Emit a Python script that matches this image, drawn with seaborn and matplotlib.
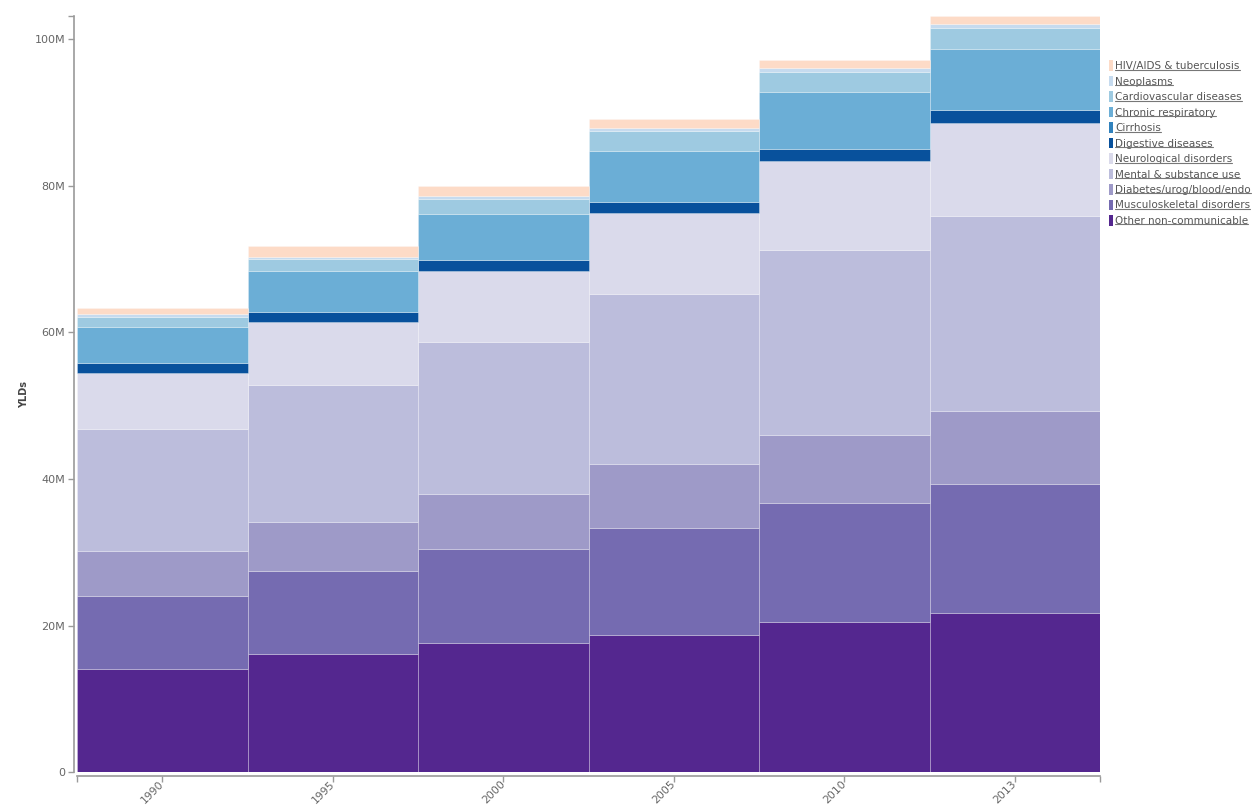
import pandas as pd
import matplotlib
matplotlib.use("Agg")
import matplotlib.pyplot as plt
from matplotlib.patches import Patch
from matplotlib.lines import Line2D
import seaborn as sns

# Data (YLDs, millions)
years = ["1990", "1995", "2000", "2005", "2010", "2013"]

causes = [
    "HIV/AIDS & tuberculosis",
    "Neoplasms",
    "Cardiovascular diseases",
    "Chronic respiratory",
    "Cirrhosis",
    "Digestive diseases",
    "Neurological disorders",
    "Mental & substance use",
    "Diabetes/urog/blood/endo",
    "Musculoskeletal disorders",
    "Other non-communicable",
]

hiv = [0.78, 1.37, 1.47, 1.27, 1.13, 1.13]
neoplasms = [0.37, 0.31, 0.31, 0.46, 0.51, 0.45]
cardio = [1.36, 1.60, 2.05, 2.74, 2.68, 2.97]
chronic_resp = [5.00, 5.60, 6.29, 6.97, 7.79, 8.33]
cirrhosis = [0.0, 0.0, 0.0, 0.0, 0.0, 0.0]
digestive = [1.29, 1.37, 1.46, 1.44, 1.60, 1.68]
neuro = [7.69, 8.61, 9.70, 11.03, 12.20, 12.71]
mental = [16.58, 18.70, 20.72, 23.27, 25.24, 26.55]
diabetes = [6.19, 6.76, 7.61, 8.66, 9.29, 9.94]
musculo = [9.93, 11.24, 12.79, 14.58, 16.21, 17.59]
other_ncd = [14.10, 16.15, 17.61, 18.74, 20.48, 21.79]

colors = ["#fddbc7", "#c6dbef", "#9ecae1", "#6baed6", "#3182bd", "#08519c",
          "#dadaeb", "#bcbddc", "#9e9ac8", "#756bb1", "#54278f"]

series = [hiv, neoplasms, cardio, chronic_resp, cirrhosis, digestive,
          neuro, mental, diabetes, musculo, other_ncd]

rows = []
for cause, vals in zip(causes, series):
    for i, v in enumerate(vals):
        rows.append({"pos": i, "year": years[i], "cause": cause, "ylds": v})
df = pd.DataFrame(rows)

sns.set_style("ticks")
plt.rcParams["font.family"] = ["DejaVu Sans"]

grey_txt = "#666666"
grey_line = "#9a9a9a"

fig = plt.figure(figsize=(12.55, 8.05), dpi=100)
ax = fig.add_axes([0.0614, 0.0406, 0.8151, 0.9395])

# first hue level ends up on top of the stack
sns.histplot(data=df, x="pos", hue="cause", weights="ylds", hue_order=causes,
             palette=dict(zip(causes, colors)), multiple="stack", discrete=True,
             shrink=1, alpha=1, edgecolor=(1, 1, 1, 0.25), linewidth=0.7,
             legend=False, ax=ax)

sns.despine(ax=ax, offset=2.5)
for side in ["left", "bottom"]:
    ax.spines[side].set_color(grey_line)
    ax.spines[side].set_linewidth(1.2)

totals = df.groupby("pos")["ylds"].sum()
ax.set_xlim(-0.5, len(years) - 0.5)
ax.set_ylim(0, totals.max())

ax.set_xticks(range(len(years)))
ax.set_xticklabels(years)
ax.set_xticks([-0.5, len(years) - 0.5], minor=True)
ax.set_yticks([0, 20, 40, 60, 80, 100])
ax.set_yticklabels(["0", "20M", "40M", "60M", "80M", "100M"])
ax.set_yticks([totals.max()], minor=True)

ax.tick_params(axis="both", which="both", length=4, width=1, color=grey_line,
               labelcolor=grey_txt, labelsize=8, pad=2)
ax.tick_params(axis="x", which="major", labelsize=7.8, pad=0.5, labelrotation=45)
for lab in ax.get_xticklabels():
    lab.set_horizontalalignment("right")
    lab.set_verticalalignment("center")
    lab.set_rotation_mode("anchor")

ax.set_xlabel("")
ax.set_ylabel("YLDs", fontsize=7, fontweight="bold", color="#444444", labelpad=4)

handles = [Patch(facecolor=c, edgecolor="none") for c in colors]
leg = ax.legend(handles, causes, loc="upper left", bbox_to_anchor=(0.884, 0.925),
                bbox_transform=fig.transFigure, frameon=False, fontsize=7.5,
                handlelength=0.3, handleheight=1.15, handletextpad=0.25,
                labelspacing=0.46, borderpad=0, borderaxespad=0)
for t in leg.get_texts():
    t.set_color("#555555")

# underline legend entries
fig.canvas.draw()
renderer = fig.canvas.get_renderer()
inv = fig.transFigure.inverted()
for t in leg.get_texts():
    bb = t.get_window_extent(renderer)
    (x0, y0), (x1, _) = inv.transform([[bb.x0, bb.y0 + 1.5], [bb.x1, bb.y1]])
    fig.add_artist(Line2D([x0, x1], [y0, y0], color="#777777", linewidth=0.8,
                          transform=fig.transFigure))

fig.savefig("out.png", dpi=100)
plt.close(fig)
